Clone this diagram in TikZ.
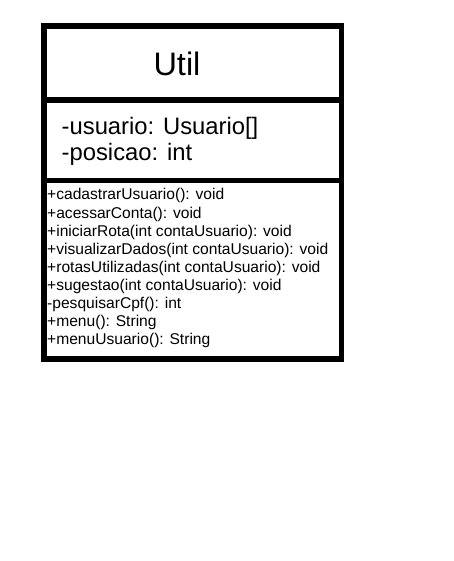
\documentclass[tikz,border=0pt]{standalone}
\usepackage{fontspec}
\setmainfont{Liberation Sans}

\begin{document}
\begin{tikzpicture}[x=1pt, y=-1pt, box/.style={draw, fill=white, line width=5.5pt}]
 \useasboundingbox (0,0) rectangle (454,561);

 % name
 \draw[box] (44,26) rectangle (341.5,100);
 \node[inner sep=0, anchor=base] (nome) at (177,76) {\fontsize{32.5}{38}\selectfont Util};

 % attributes
 \draw[box] (44,100) rectangle (341.5,180.5);
 \foreach \i/\name/\n in { 0/{-usuario: Usuario[]}/a0, 1/{-posicao: int}/a1 } {
         \node[inner sep=0, anchor=base west] (\n) at (61.5, 135+\i*26) {\fontsize{23.8}{27}\selectfont \name};
 }

 % methods
 \draw[box] (44,180.5) rectangle (341.5,359);
 \foreach \i/\name/\n in { 0/{+cadastrarUsuario(): void}/m0, 1/{+acessarConta(): void}/m1,
        2/{+iniciarRota(int contaUsuario): void}/m2, 3/{+visualizarDados(int contaUsuario): void}/m3,
        4/{+rotasUtilizadas(int contaUsuario): void}/m4, 5/{+sugestao(int contaUsuario): void}/m5,
        6/{-pesquisarCpf(): int}/m6, 7/{+menu(): String}/m7, 8/{+menuUsuario(): String}/m8 } {
         \node[inner sep=0, anchor=base west] (\n) at (47, 200+\i*18.1) {\fontsize{15.6}{18}\selectfont \name};
 }

\end{tikzpicture}
\end{document}
